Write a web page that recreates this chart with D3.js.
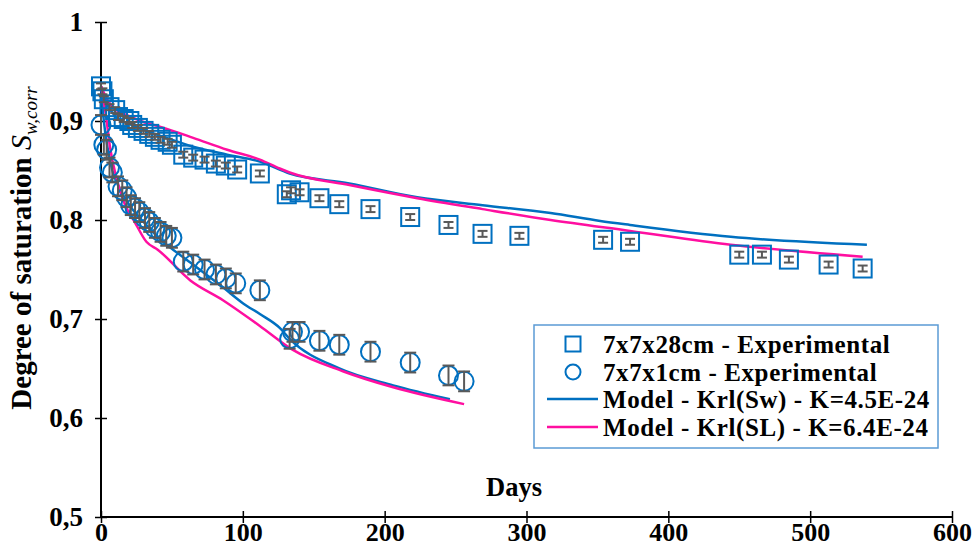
<!DOCTYPE html>
<html><head><meta charset="utf-8">
<script src="https://cdn.jsdelivr.net/npm/d3@7"></script>
<style>body{margin:0;background:#fff}svg{display:block}
text{font-family:"Liberation Serif","Times New Roman",Times,"DejaVu Serif",serif;font-weight:bold}</style>
</head><body><svg id="c" width="975" height="555"></svg>
<script>
// ---- data ----
const xTicks = [0, 100, 200, 300, 400, 500, 600];
const xTickLabels = ["0", "100", "200", "300", "400", "500", "600"];
const yTicks = [0.5, 0.6, 0.7, 0.8, 0.9, 1];
const yTickLabels = ["0,5", "0,6", "0,7", "0,8", "0,9", "1"];

const sqDays = [0, 1, 2, 6, 10, 12, 16, 20, 22, 26, 30, 34, 38, 42, 47, 50, 58, 65, 73, 81, 88, 96, 112, 131, 134, 140, 154, 168, 190, 218, 245, 269, 295, 354, 373, 450, 466, 485, 513, 537];
const sqVals = [0.935, 0.93, 0.922, 0.914, 0.911, 0.904, 0.902, 0.9, 0.896, 0.893, 0.89, 0.887, 0.884, 0.881, 0.879, 0.876, 0.866, 0.863, 0.861, 0.857, 0.855, 0.851, 0.847, 0.826, 0.83, 0.828, 0.822, 0.816, 0.811, 0.803, 0.795, 0.786, 0.784, 0.78, 0.778, 0.765, 0.765, 0.76, 0.755, 0.751];
const sqErr = [0.003, 0.003, 0.003, 0.003, 0.003, 0.003, 0.003, 0.003, 0.003, 0.003, 0.003, 0.003, 0.003, 0.003, 0.003, 0.003, 0.003, 0.003, 0.003, 0.003, 0.003, 0.003, 0.003, 0.003, 0.003, 0.003, 0.003, 0.003, 0.003, 0.003, 0.003, 0.003, 0.003, 0.003, 0.003, 0.003, 0.003, 0.003, 0.003, 0.003];

const ciDays = [0, 2, 4, 6, 8, 12, 15, 18, 21, 24, 27, 31, 34, 38, 42, 46, 50, 58, 65, 73, 81, 88, 95, 112, 133, 135, 140, 154, 168, 190, 218, 245, 256];
const ciVals = [0.896, 0.876, 0.871, 0.853, 0.848, 0.834, 0.83, 0.823, 0.815, 0.812, 0.808, 0.802, 0.798, 0.792, 0.788, 0.784, 0.782, 0.758, 0.755, 0.75, 0.745, 0.741, 0.736, 0.729, 0.68, 0.687, 0.687, 0.678, 0.674, 0.667, 0.656, 0.643, 0.637];
const ciErr = [0.01, 0.01, 0.01, 0.01, 0.01, 0.01, 0.01, 0.01, 0.01, 0.01, 0.01, 0.01, 0.01, 0.01, 0.01, 0.01, 0.01, 0.01, 0.01, 0.01, 0.01, 0.01, 0.01, 0.01, 0.01, 0.01, 0.01, 0.01, 0.01, 0.01, 0.01, 0.01, 0.01];

// Model Krl(Sw), 7x7x28cm and 7x7x1cm
const swLongDays = [0, 5, 10, 20, 30, 42, 65, 89, 112, 133, 175, 223, 269, 317, 352, 373, 444, 540];
const swLongVals = [0.935, 0.915, 0.905, 0.897, 0.891, 0.885, 0.874, 0.866, 0.859, 0.847, 0.837, 0.823, 0.815, 0.807, 0.799, 0.795, 0.783, 0.775];
const swShortDays = [0, 2, 5, 8, 12, 20, 30, 40, 63, 86, 100, 112, 126, 133, 168, 206, 246];
const swShortVals = [0.935, 0.9, 0.87, 0.85, 0.835, 0.815, 0.798, 0.783, 0.757, 0.732, 0.716, 0.705, 0.691, 0.68, 0.65, 0.633, 0.619];
// Model Krl(SL)
const slLongDays = [0, 5, 10, 20, 30, 42, 65, 89, 112, 126, 133, 176, 223, 269, 317, 373, 444, 537];
const slLongVals = [0.935, 0.92, 0.912, 0.905, 0.899, 0.894, 0.883, 0.871, 0.861, 0.852, 0.848, 0.835, 0.822, 0.811, 0.8, 0.789, 0.775, 0.763];
const slShortDays = [0, 1.4, 4, 6.3, 11, 18, 23, 32, 40, 63, 86, 112, 135, 171, 206, 256];
const slShortVals = [0.935, 0.925, 0.9, 0.874, 0.842, 0.812, 0.8, 0.778, 0.77, 0.739, 0.719, 0.693, 0.669, 0.647, 0.631, 0.614];

const legendLabels = ["7x7x28cm - Experimental", "7x7x1cm - Experimental", "Model - Krl(Sw) - K=4.5E-24", "Model - Krl(SL) - K=6.4E-24"];

// ---- styles ----
const BLUE = "#0070C0", PINK = "#FF0FA0", GRAY = "#595959";

const svg = d3.select("#c");
const x = d3.scaleLinear().domain([0, 600]).range([101, 952]);
const y = d3.scaleLinear().domain([0.5, 1]).range([517, 22]);

// axes
const xAxis = svg.append("g").attr("transform", `translate(0,${y(0.5)})`)
  .call(d3.axisBottom(x).tickValues(xTicks).tickFormat((d, i) => xTickLabels[i]).tickSize(6).tickPadding(-3));
xAxis.attr("font-family", null).attr("font-size", null);
xAxis.select(".domain").attr("stroke", "#000").attr("stroke-width", 2).attr("d", `M${x(0)},0H${x(600)}`);
xAxis.selectAll(".tick line").attr("y1", -6).attr("y2", 6).attr("stroke-width", 1.5);
xAxis.selectAll("text").style("font-size", "26px").attr("fill", "#000").attr("dy", "0.8em");

const yAxis = svg.append("g").attr("transform", `translate(${x(0)},0)`)
  .call(d3.axisLeft(y).tickValues(yTicks).tickFormat((d, i) => yTickLabels[i]).tickSize(6).tickPadding(12));
yAxis.attr("font-family", null).attr("font-size", null);
yAxis.select(".domain").attr("stroke", "#000").attr("stroke-width", 2).attr("d", `M0,${y(0.5)}V${y(1)}`);
yAxis.selectAll(".tick line").attr("x1", -6).attr("x2", 6).attr("stroke-width", 1.5);
yAxis.selectAll("text").style("font-size", "27px").attr("fill", "#000");

// axis titles
svg.append("text").attr("x", 514).attr("y", 496).attr("text-anchor", "middle")
  .style("font-size", "26.5px").text("Days");
const yt = svg.append("text").attr("transform", "translate(31,248) rotate(-90)").attr("text-anchor", "middle")
  .style("font-size", "29px");
yt.append("tspan").text("Degree of saturation  ");
yt.append("tspan").style("font-style", "italic").style("font-weight", "normal").style("font-size", "30px").text("S");
yt.append("tspan").style("font-style", "italic").style("font-weight", "normal").style("font-size", "19px").attr("dy", 6).text("w,corr");

// lines
const line = d3.line().x(d => x(d[0])).y(d => y(d[1])).curve(d3.curveMonotoneX);
const zip = (a, b) => a.map((v, i) => [v, b[i]]);
[[swLongDays, swLongVals, BLUE], [swShortDays, swShortVals, BLUE], [slLongDays, slLongVals, PINK], [slShortDays, slShortVals, PINK]]
  .forEach(([d, v, c]) => svg.append("path").datum(zip(d, v)).attr("d", line)
    .attr("fill", "none").attr("stroke", c).attr("stroke-width", 2.5));

// markers
const S = 18;
svg.append("g").selectAll("rect").data(zip(sqDays, sqVals)).join("rect")
  .attr("x", d => x(d[0]) - S / 2).attr("y", d => y(d[1]) - S / 2).attr("width", S).attr("height", S)
  .attr("fill", "none").attr("stroke", BLUE).attr("stroke-width", 2);
svg.append("g").selectAll("circle").data(zip(ciDays, ciVals)).join("circle")
  .attr("cx", d => x(d[0])).attr("cy", d => y(d[1])).attr("r", 9.5)
  .attr("fill", "none").attr("stroke", BLUE).attr("stroke-width", 2);

// error bars
function errBars(days, vals, errs, cap) {
  const g = svg.append("g").attr("stroke", GRAY).attr("stroke-width", 2);
  days.forEach((d, i) => {
    const cx = x(d), y0 = y(vals[i] - errs[i]), y1 = y(vals[i] + errs[i]);
    g.append("line").attr("x1", cx).attr("x2", cx).attr("y1", y0).attr("y2", y1);
    g.append("line").attr("x1", cx - cap).attr("x2", cx + cap).attr("y1", y0).attr("y2", y0);
    g.append("line").attr("x1", cx - cap).attr("x2", cx + cap).attr("y1", y1).attr("y2", y1);
  });
}
errBars(sqDays, sqVals, sqErr, 5);
errBars(ciDays, ciVals, ciErr, 6);

// legend
const lg = svg.append("g");
lg.append("rect").attr("x", 534).attr("y", 325).attr("width", 404).attr("height", 123)
  .attr("fill", "#fff").attr("stroke", "#5B9BD5").attr("stroke-width", 1.5);
const rowY = [344, 372, 399, 427];
lg.append("rect").attr("x", 573 - 7.5).attr("y", rowY[0] - 7.5).attr("width", 15).attr("height", 15)
  .attr("fill", "none").attr("stroke", BLUE).attr("stroke-width", 2);
lg.append("circle").attr("cx", 573).attr("cy", rowY[1]).attr("r", 7.5)
  .attr("fill", "none").attr("stroke", BLUE).attr("stroke-width", 2);
lg.append("line").attr("x1", 547).attr("x2", 598).attr("y1", rowY[2]).attr("y2", rowY[2]).attr("stroke", BLUE).attr("stroke-width", 2.5);
lg.append("line").attr("x1", 547).attr("x2", 598).attr("y1", rowY[3]).attr("y2", rowY[3]).attr("stroke", PINK).attr("stroke-width", 2.5);
legendLabels.forEach((t, i) => lg.append("text").attr("x", 603).attr("y", rowY[i] + 9)
  .style("font-size", "25px").style("letter-spacing", "0.6px").text(t));
</script></body></html>
